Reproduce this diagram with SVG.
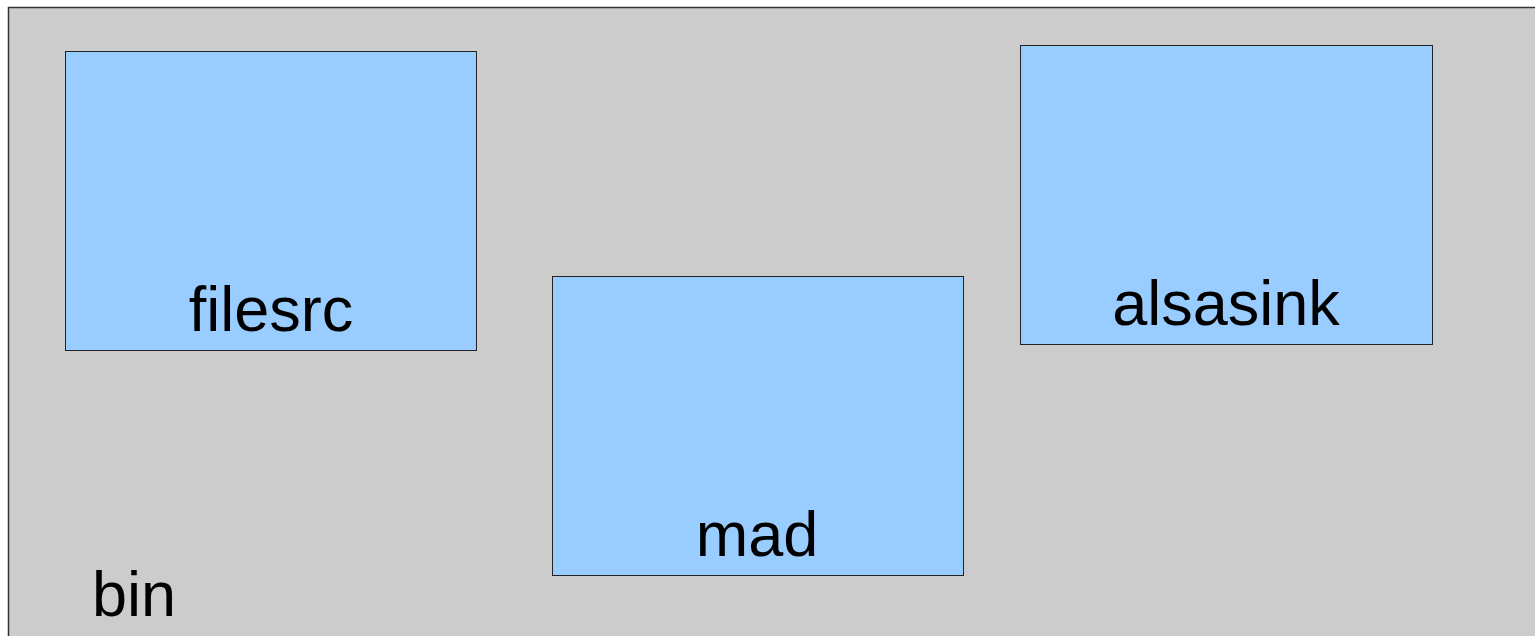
<svg xmlns="http://www.w3.org/2000/svg" width="1535" height="636" viewBox="0 0 1535 636">
<style>
.bin{fill:#cccccc;stroke:#333333;stroke-width:1.5}
.el{fill:#99ccff;stroke:#222222;stroke-width:1}
.t{font-family:"Liberation Sans",Arial,sans-serif;font-size:63px;fill:#000000}
.c{text-anchor:middle}
</style>
<g id="bin">
<rect class="bin" x="8.5" y="7.5" width="1530" height="640"/>
<text class="t" x="92" y="616">bin</text>
</g>
<g id="filesrc">
<rect class="el" x="65.5" y="51.5" width="411" height="299"/>
<text class="t c" x="271" y="331">filesrc</text>
</g>
<g id="mad">
<rect class="el" x="552.5" y="276.5" width="411" height="299"/>
<text class="t c" x="757" y="556">mad</text>
</g>
<g id="alsasink">
<rect class="el" x="1020.5" y="45.5" width="412" height="299"/>
<text class="t c" x="1226" y="325">alsasink</text>
</g>
<g id="connectors"></g>
</svg>
